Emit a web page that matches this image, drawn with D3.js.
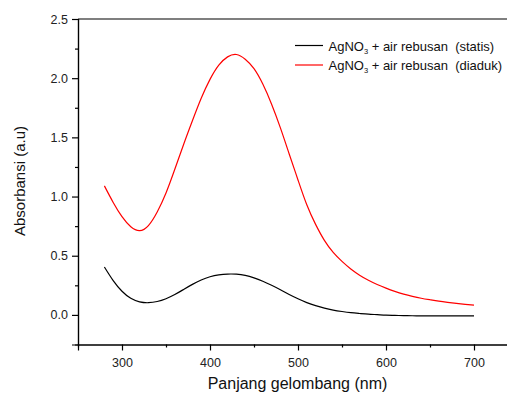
<!DOCTYPE html>
<html>
<head>
<meta charset="utf-8">
<script src="https://cdn.jsdelivr.net/npm/d3@7"></script>
<style>
  body { margin: 0; background: #fff; }
  text { font-family: "Liberation Sans", Arial, sans-serif; }
</style>
</head>
<body>
<div class="canvas"></div>
<script>
// wavelengths (nm)
const wavelengths = [280, 290, 300, 310, 320, 330, 340, 350, 360, 370, 380, 390, 400, 410, 420, 430,
  440, 450, 460, 470, 480, 490, 500, 510, 520, 530, 540, 550, 560, 570, 580, 590, 600,
  610, 620, 630, 640, 650, 660, 670, 680, 690, 700];

// AgNO3 + air rebusan (statis)
const statis = [0.405, 0.29, 0.20, 0.14, 0.11, 0.103, 0.113, 0.137, 0.172, 0.215, 0.258, 0.295, 0.322, 0.338, 0.345, 0.344,
  0.334, 0.313, 0.284, 0.25, 0.212, 0.172, 0.136, 0.104, 0.078, 0.057, 0.041, 0.029, 0.019, 0.012, 0.006, 0.002, -0.002,
  -0.004, -0.006, -0.007, -0.008, -0.008, -0.008, -0.008, -0.008, -0.008, -0.008];

// AgNO3 + air rebusan (diaduk)
const diaduk = [1.09, 0.95, 0.83, 0.745, 0.712, 0.755, 0.87, 1.03, 1.23, 1.44, 1.64, 1.83, 1.99, 2.11, 2.18, 2.20,
  2.16, 2.08, 1.95, 1.78, 1.58, 1.36, 1.14, 0.93, 0.765, 0.63, 0.528, 0.452, 0.388, 0.336, 0.293, 0.257, 0.226,
  0.199, 0.176, 0.157, 0.141, 0.128, 0.116, 0.106, 0.097, 0.089, 0.082];

const xTicks = [300, 400, 500, 600, 700];
const xMinorTicks = [350, 450, 550, 650];
const yTicks = [0.0, 0.5, 1.0, 1.5, 2.0, 2.5];
const yMinorTicks = [0.25, 0.75, 1.25, 1.75, 2.25];

const seriesNames = ['statis', 'diaduk'];
const seriesColors = ['#000000', '#ff0000'];

const width = 507, height = 394;

const svg = d3.select('.canvas')
  .append('svg')
  .attr('width', width)
  .attr('height', height);

// scales
const x = d3.scaleLinear().domain([250, 750]).range([78, 518]);
const y = d3.scaleLinear().domain([-0.25, 2.5]).range([344.5, 19]);

// axes
const xAxis = svg.append('g')
  .attr('transform', `translate(0, ${y(-0.25)})`)
  .call(d3.axisBottom(x).tickValues(xTicks).tickSize(6).tickPadding(8).tickFormat(d3.format('d')));

const xMinor = svg.append('g')
  .attr('transform', `translate(0, ${y(-0.25)})`)
  .call(d3.axisBottom(x).tickValues(xMinorTicks).tickSize(3).tickFormat(''));

const yAxis = svg.append('g')
  .attr('transform', `translate(${x(250)}, 0)`)
  .call(d3.axisLeft(y).tickValues(yTicks).tickSize(6).tickPadding(4).tickFormat(d3.format('.1f')));

const yMinor = svg.append('g')
  .attr('transform', `translate(${x(250)}, 0)`)
  .call(d3.axisLeft(y).tickValues(yMinorTicks).tickSize(3).tickFormat(''));

[xAxis, xMinor, yAxis, yMinor].forEach(g => {
  g.select('.domain').attr('stroke', '#000').attr('stroke-width', 1.2);
  g.selectAll('.tick line').attr('stroke', '#000').attr('stroke-width', 1.2);
  g.selectAll('.tick text').attr('font-size', 12.5).attr('fill', '#222')
    .style('font-family', '"Liberation Sans", Arial, sans-serif');
});

// top and right frame lines
svg.append('line')
  .attr('x1', x(250)).attr('x2', x(750))
  .attr('y1', y(2.5)).attr('y2', y(2.5))
  .attr('stroke', '#000').attr('stroke-width', 1.2);
svg.append('line')
  .attr('x1', x(750)).attr('x2', x(750))
  .attr('y1', y(2.5)).attr('y2', y(-0.25))
  .attr('stroke', '#000').attr('stroke-width', 1.2);

// lines
const line = d3.line()
  .x(d => x(d[0]))
  .y(d => y(d[1]))
  .curve(d3.curveNatural);

[statis, diaduk].forEach((vals, i) => {
  svg.append('path')
    .datum(wavelengths.map((w, j) => [w, vals[j]]))
    .attr('fill', 'none')
    .attr('stroke', seriesColors[i])
    .attr('stroke-width', 1.2)
    .attr('d', line);
});

// axis titles
svg.append('text')
  .attr('x', 297.5).attr('y', 389)
  .attr('text-anchor', 'middle')
  .attr('font-size', 16)
  .attr('fill', '#111')
  .text('Panjang gelombang (nm)');

svg.append('text')
  .attr('transform', 'translate(25, 181) rotate(-90)')
  .attr('text-anchor', 'middle')
  .attr('font-size', 15)
  .attr('fill', '#111')
  .text('Absorbansi (a.u)');

// legend
const legend = svg.append('g').attr('transform', 'translate(295, 45.5)');
seriesNames.forEach((name, i) => {
  const row = legend.append('g').attr('transform', `translate(0, ${i * 19.5})`);
  row.append('line')
    .attr('x1', 0).attr('x2', 28)
    .attr('stroke', seriesColors[i]).attr('stroke-width', 1.2);
  const t = row.append('text')
    .attr('x', 33.5).attr('y', 5)
    .attr('font-size', 13)
    .attr('fill', '#111')
    .style('white-space', 'pre');
  t.append('tspan').text('AgNO');
  t.append('tspan').attr('font-size', 7.5).attr('dy', 3).text('3');
  t.append('tspan').attr('dy', -3).text(` + air rebusan  (${name})`);
});
</script>
</body>
</html>
